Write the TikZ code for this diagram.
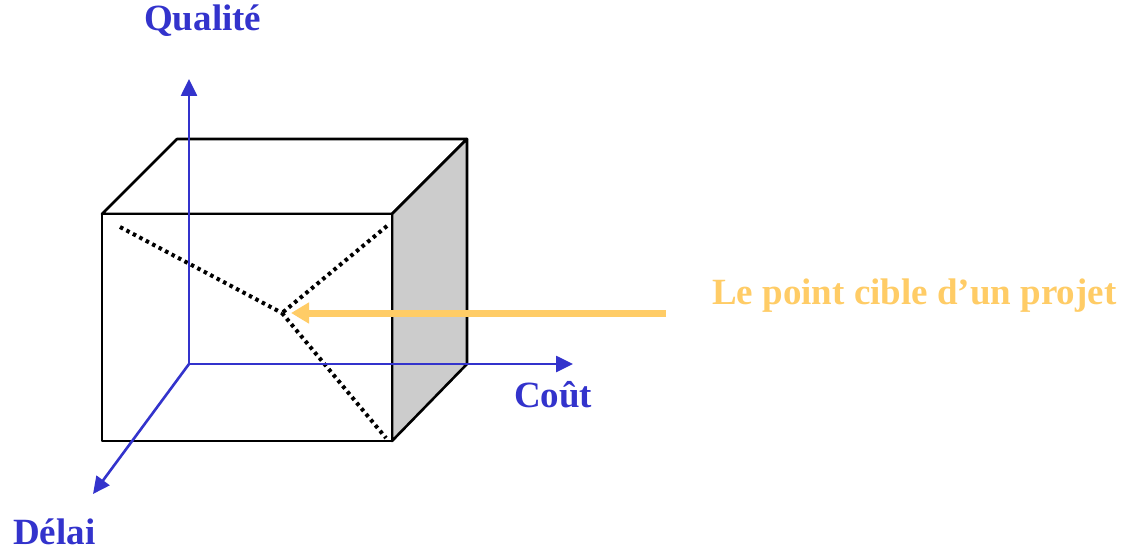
\documentclass[tikz,border=0pt]{standalone}
\usepackage{fontspec}
\setmainfont{Liberation Serif}
\usetikzlibrary{arrows.meta}
\definecolor{axisblue}{HTML}{3333CC}
\definecolor{targetorange}{HTML}{FFCC66}
\definecolor{sidegray}{HTML}{CCCCCC}
\begin{document}
\begin{tikzpicture}[x=1pt,y=-1pt,
  edge/.style={draw=black,line width=2.6pt,line join=round},
  axis/.style={draw=axisblue,line width=2.6pt,-{Triangle[length=17pt,width=16pt]}},
  dots/.style={draw=black,line width=4pt,dash pattern=on 3.5pt off 3.8pt},
  lbl/.style={font=\fontsize{37}{40}\selectfont\bfseries,text=axisblue,anchor=base west,inner sep=0pt},
  target/.style={draw=targetorange,line width=7pt,-{Triangle[length=18pt,width=20pt]}}]
\useasboundingbox (0,0) rectangle (1126,553);
% cube corners
\coordinate (ftl) at (102,214);
\coordinate (ftr) at (392,214);
\coordinate (fbl) at (102,441);
\coordinate (fbr) at (392,441);
\coordinate (btl) at (177,139);
\coordinate (btr) at (467,139);
\coordinate (bbr) at (467,364);
% faces
\filldraw[edge,fill=white] (ftl) -- (btl) -- (btr) -- (ftr) -- cycle;
\filldraw[edge,fill=sidegray] (ftr) -- (btr) -- (bbr) -- (fbr) -- cycle;
\filldraw[edge,fill=white] (ftl) -- (ftr) -- (fbr) -- (fbl) -- cycle;
% dotted lines to the target point
\coordinate (pt) at (282,313);
\coordinate (d1) at (120,227);
\coordinate (d2) at (387,226);
\coordinate (d3) at (386,438);
\draw[dots] (d1) -- (pt);
\draw[dots] (d2) -- (pt);
\draw[dots] (pt) -- (d3);
% axes
\coordinate (o) at (189,364);
\coordinate (qtip) at (189,79);
\coordinate (ctip) at (573,364);
\coordinate (dtip) at (93,494);
\draw[axis] (o) -- (qtip);
\draw[axis] (o) -- (ctip);
\draw[axis] (o) -- (dtip);
% labels
\node[lbl] (qual) at (144,31) {Qualité};
\node[lbl] (cout) at (514,407) {Coût};
\node[lbl] (delai) at (13,544) {Délai};
\node[lbl,text=targetorange] (cible) at (712,304) {Le point cible d’un projet};
% target arrow
\coordinate (astart) at (666,313);
\coordinate (aend) at (291,313);
\draw[target] (astart) -- (aend);
\end{tikzpicture}
\end{document}
